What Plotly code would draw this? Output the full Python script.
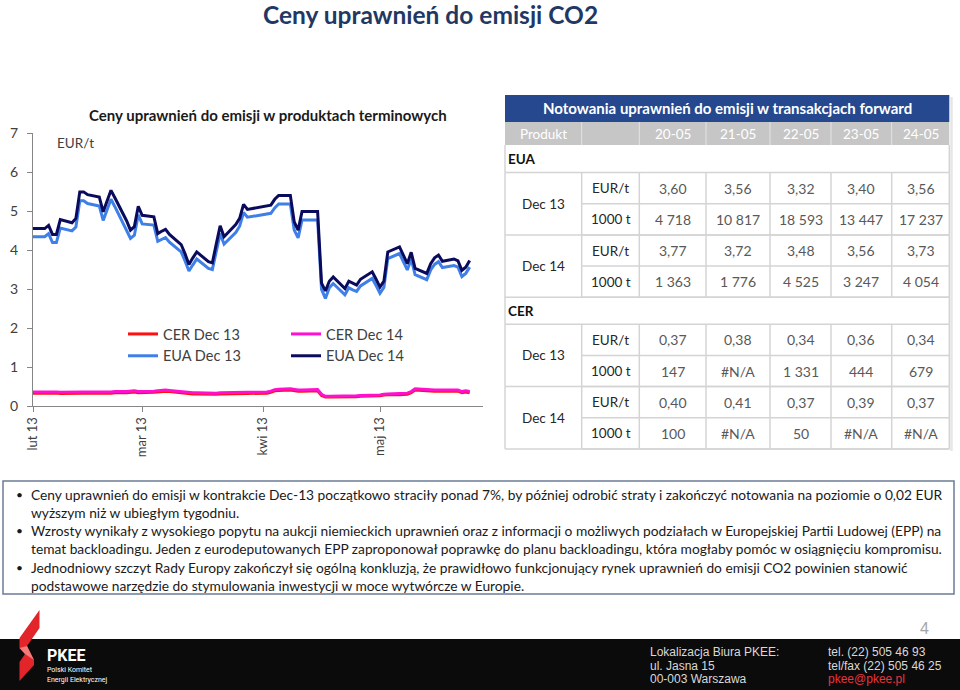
import pandas as pd
import plotly.graph_objects as go

W, H = 960, 690


def px(x):
    return x / W


def py(y):
    return 1 - y / H


# --- chart data, business days 1 Feb - 24 May 2013 ---
dates = [d for d in pd.bdate_range("2013-02-01", "2013-05-24")
         if d.strftime("%m-%d") not in ("03-29", "04-01")]

eua_dec13 = [4.34, 4.34, 4.42, 4.19, 4.19, 4.56, 4.49, 4.59, 5.26, 5.26,
             5.19, 5.13, 4.76, 5.04, 5.30, 5.11, 4.53, 4.30, 4.38, 4.90,
             4.67, 4.64, 4.22, 4.27, 4.32, 4.20, 3.95, 3.72, 3.46, 3.62,
             3.77, 3.53, 3.50, 3.96, 4.42, 4.15, 4.45, 4.61, 4.96, 4.84,
             4.92, 4.94, 5.08, 5.18, 5.18, 4.51, 4.31, 4.77, 4.77, 4.77,
             2.99, 2.76, 3.03, 3.14, 2.85, 3.03, 2.98, 2.94, 3.08, 3.27,
             3.09, 2.89, 3.04, 3.78, 3.91, 3.69, 3.49, 3.77, 3.37, 3.24,
             3.49, 3.63, 3.70, 3.55, 3.60, 3.56, 3.32, 3.40, 3.56]
eua_dec14 = [4.55, 4.55, 4.63, 4.40, 4.40, 4.78, 4.70, 4.81, 5.49, 5.49,
             5.42, 5.36, 4.98, 5.27, 5.53, 5.34, 4.75, 4.51, 4.60, 5.12,
             4.89, 4.85, 4.42, 4.48, 4.53, 4.40, 4.14, 3.90, 3.63, 3.80,
             3.95, 3.70, 3.67, 4.15, 4.62, 4.34, 4.65, 4.81, 5.17, 5.04,
             5.13, 5.15, 5.30, 5.40, 5.40, 4.72, 4.51, 4.99, 4.99, 4.99,
             3.15, 2.95, 3.20, 3.31, 3.01, 3.20, 3.15, 3.10, 3.25, 3.44,
             3.25, 3.05, 3.20, 3.95, 4.08, 3.85, 3.65, 3.94, 3.53, 3.40,
             3.65, 3.80, 3.87, 3.71, 3.77, 3.72, 3.48, 3.56, 3.73]
cer_dec13 = [0.33, 0.33, 0.34, 0.34, 0.33, 0.32, 0.33, 0.34, 0.34, 0.33,
             0.33, 0.32, 0.32, 0.33, 0.33, 0.34, 0.34, 0.35, 0.36, 0.34,
             0.34, 0.35, 0.36, 0.37, 0.38, 0.37, 0.34, 0.32, 0.31, 0.31,
             0.31, 0.30, 0.30, 0.30, 0.31, 0.31, 0.31, 0.32, 0.32, 0.32,
             0.33, 0.35, 0.39, 0.40, 0.41, 0.39, 0.38, 0.38, 0.38, 0.39,
             0.27, 0.23, 0.23, 0.23, 0.23, 0.23, 0.24, 0.24, 0.25, 0.25,
             0.25, 0.26, 0.28, 0.29, 0.29, 0.29, 0.30, 0.34, 0.41, 0.39,
             0.38, 0.38, 0.38, 0.38, 0.37, 0.38, 0.34, 0.36, 0.34]
cer_dec14 = [0.36, 0.36, 0.37, 0.37, 0.36, 0.35, 0.36, 0.37, 0.37, 0.36,
             0.36, 0.35, 0.35, 0.36, 0.36, 0.37, 0.37, 0.38, 0.39, 0.37,
             0.37, 0.38, 0.39, 0.40, 0.41, 0.40, 0.37, 0.35, 0.34, 0.34,
             0.34, 0.33, 0.33, 0.33, 0.34, 0.34, 0.34, 0.35, 0.35, 0.35,
             0.36, 0.38, 0.42, 0.43, 0.44, 0.42, 0.41, 0.41, 0.41, 0.42,
             0.30, 0.25, 0.25, 0.25, 0.25, 0.25, 0.26, 0.26, 0.27, 0.27,
             0.27, 0.28, 0.30, 0.31, 0.32, 0.32, 0.33, 0.37, 0.44, 0.42,
             0.41, 0.41, 0.41, 0.41, 0.40, 0.41, 0.37, 0.39, 0.37]

month_ticks = ["2013-02-01", "2013-03-01", "2013-04-01", "2013-05-01"]
month_labels = ["lut 13", "mar 13", "kwi 13", "maj 13"]

# --- forward table ---
table_title = "Notowania uprawnień do emisji w transakcjach forward"
table_dates = ["20-05", "21-05", "22-05", "23-05", "24-05"]
eua_dec13_price = ["3,60", "3,56", "3,32", "3,40", "3,56"]
eua_dec13_vol = ["4 718", "10 817", "18 593", "13 447", "17 237"]
eua_dec14_price = ["3,77", "3,72", "3,48", "3,56", "3,73"]
eua_dec14_vol = ["1 363", "1 776", "4 525", "3 247", "4 054"]
cer_dec13_price = ["0,37", "0,38", "0,34", "0,36", "0,34"]
cer_dec13_vol = ["147", "#N/A", "1 331", "444", "679"]
cer_dec14_price = ["0,40", "0,41", "0,37", "0,39", "0,37"]
cer_dec14_vol = ["100", "#N/A", "50", "#N/A", "#N/A"]

bullets = [
    ["Ceny uprawnień do emisji w kontrakcie Dec-13 początkowo straciły ponad 7%, by później odrobić straty i zakończyć notowania na poziomie o 0,02 EUR",
     "wyższym niż w ubiegłym tygodniu."],
    ["Wzrosty wynikały z wysokiego popytu na aukcji niemieckich uprawnień oraz z informacji o możliwych podziałach w Europejskiej Partii Ludowej (EPP) na",
     "temat backloadingu. Jeden z eurodeputowanych EPP zaproponował poprawkę do planu backloadingu, która mogłaby pomóc w osiągnięciu kompromisu."],
    ["Jednodniowy szczyt Rady Europy zakończył się ogólną konkluzją, że prawidłowo funkcjonujący rynek uprawnień do emisji CO2 powinien stanowić",
     "podstawowe narzędzie do stymulowania inwestycji w moce wytwórcze w Europie."],
]

FONT = "Lato"
ann = []
shapes = []


def text(x, y, s, size=13, color="#262626", anchor="center", bold=False, family=FONT):
    if bold:
        s = "<b>" + s + "</b>"
    ann.append(dict(x=px(x), y=py(y), xref="paper", yref="paper", text=s, showarrow=False,
                    xanchor=anchor, yanchor="middle",
                    font=dict(family=family, size=size, color=color)))


def rect(x0, y0, x1, y1, fill=None, line=None, lw=1):
    shapes.append(dict(type="rect", xref="paper", yref="paper",
                       x0=px(x0), x1=px(x1), y0=py(y1), y1=py(y0),
                       fillcolor=fill or "rgba(0,0,0,0)",
                       line=dict(color=line or "rgba(0,0,0,0)", width=lw if line else 0),
                       layer="below"))


def hline(x0, x1, y, color="#D4D4D4", lw=1.5):
    shapes.append(dict(type="line", xref="paper", yref="paper", x0=px(x0), x1=px(x1),
                       y0=py(y), y1=py(y), line=dict(color=color, width=lw)))


def vline(x, y0, y1, color="#D4D4D4", lw=1.5):
    shapes.append(dict(type="line", xref="paper", yref="paper", x0=px(x), x1=px(x),
                       y0=py(y0), y1=py(y1), line=dict(color=color, width=lw)))


fig = go.Figure()
series = [("CER Dec 13", cer_dec13, "#FF1010", "legend"),
          ("CER Dec 14", cer_dec14, "#FF10D0", "legend2"),
          ("EUA Dec 13", eua_dec13, "#3F7FE8", "legend"),
          ("EUA Dec 14", eua_dec14, "#0B0B5E", "legend2")]
for name, vals, color, leg in series:
    fig.add_trace(go.Scatter(x=dates, y=vals, mode="lines", name=name,
                             line=dict(color=color, width=3), legend=leg))

# slide title and chart labels
text(430, 15, "Ceny uprawnień do emisji CO2", size=24.5, color="#1F3864", bold=True)
text(268, 115, "Ceny uprawnień do emisji w produktach terminowych", size=15, color="#1a1a1a", bold=True)
text(55, 143, "EUR/t", size=13.5, color="#404040", anchor="left")

# table
cols = [505, 581.7, 639.3, 706, 770, 831, 891.7, 949.3]
col_c = [(cols[i] + cols[i + 1]) / 2 for i in range(len(cols) - 1)]
rect(505, 95, 949.3, 122, fill="#25488E")
text(727, 108.5, table_title, size=15, color="white", bold=True)
rect(505, 122, 949.3, 145, fill="#C6C6C6")
for c in cols[1:-1]:
    vline(c, 122, 145, color="#E4E4E4", lw=1)
text(col_c[0], 133.5, "Produkt", size=13.5, color="white")
for i, d in enumerate(table_dates):
    text(col_c[2 + i], 133.5, d, size=13.5, color="white")

groups = [("EUA", 145, [("Dec 13", eua_dec13_price, eua_dec13_vol),
                        ("Dec 14", eua_dec14_price, eua_dec14_vol)]),
          ("CER", 296.7, [("Dec 13", cer_dec13_price, cer_dec13_vol),
                          ("Dec 14", cer_dec14_price, cer_dec14_vol)])]
row_h = 31.2
for label, top, blocks in groups:
    text(506, top + 14, label, size=13.5, color="#111111", anchor="left", bold=True)
    y = top + 27.5
    hline(505, 949.3, y)
    for prod, price, vol in blocks:
        y0 = y
        for unit, vals in (("EUR/t", price), ("1000 t", vol)):
            text(col_c[1], y + row_h / 2, unit, size=13.5)
            for i, v in enumerate(vals):
                text(col_c[2 + i], y + row_h / 2, v, size=14, color="#595959")
            y += row_h
            hline(cols[1], 949.3, y)
        hline(505, 949.3, y)
        text(col_c[0], (y0 + y) / 2, prod, size=13.5)
        for c in cols[1:-1]:
            vline(c, y0, y)
        vline(505, y0, y)
        vline(949.3, y0, y)
    vline(505, top, top + 27.5)
    vline(949.3, top, top + 27.5)
# faint shadow on the right edge of the table
vline(951.5, 97, 451, color="#E6E6E6", lw=2.5)

# comment box
rect(3, 481, 954, 594, line="#6B7B95", lw=1.5)
line_y = 494
for para in bullets:
    text(14, line_y, "•", size=12, color="#1a1a1a", anchor="left")
    for ln in para:
        text(29, line_y, ln, size=13.75, color="#1a1a1a", anchor="left")
        line_y += 18.3

# footer
rect(0, 639, 960, 690, fill="#0B0B0B")
text(924, 628, "4", size=16, color="#A6A6A6", family="Liberation Sans")
shapes.append(dict(type="path", xref="paper", yref="paper", fillcolor="#E2242B", line=dict(width=0),
                   path="M {} {} L {} {} L {} {} L {} {} L {} {} L {} {} L {} {} L {} {} L {} {} L {} {} Z".format(
                       px(39.5), py(610), px(39.5), py(628), px(27), py(646), px(34), py(660),
                       px(34), py(665), px(19.5), py(681), px(19.5), py(662), px(25), py(654),
                       px(19.5), py(648), px(19.5), py(638))))
shapes.append(dict(type="path", xref="paper", yref="paper", fillcolor="#F47A7A", line=dict(width=0),
                   path="M {} {} L {} {} L {} {} L {} {} Z".format(
                       px(19.5), py(648), px(27), py(646), px(34), py(660), px(25), py(654))))
text(45, 655, "PKEE", size=16, color="white", anchor="left", bold=True, family="Roboto")
text(45, 670, "Polski Komitet", size=7, color="white", anchor="left", family="Roboto")
text(45, 680, "Energii Elektrycznej", size=7, color="white", anchor="left", family="Roboto")
foot_l = ["Lokalizacja Biura PKEE:", "ul. Jasna 15", "00-003 Warszawa"]
foot_r = ["tel. (22) 505 46 93", "tel/fax (22) 505 46 25", "pkee@pkee.pl"]
for i, s in enumerate(foot_l):
    text(648, 652 + i * 13.5, s, size=12, color="#D9D9D9", anchor="left", family="Liberation Sans")
for i, s in enumerate(foot_r):
    text(826, 652 + i * 13.5, s, size=12, color="#E8343F" if i == 2 else "#D9D9D9",
         anchor="left", family="Liberation Sans")

leg_style = dict(yanchor="top", xanchor="left", bgcolor="rgba(0,0,0,0)",
                 font=dict(family=FONT, size=14.5, color="#404040"), itemwidth=30,
                 tracegroupgap=0)
fig.update_layout(
    width=W, height=H, margin=dict(l=0, r=0, t=0, b=0, autoexpand=False),
    paper_bgcolor="white", plot_bgcolor="white",
    legend=dict(x=px(123), y=py(318), **leg_style),
    legend2=dict(x=px(286), y=py(318), **leg_style),
    xaxis=dict(domain=[px(33), px(483)], type="date", automargin=False,
               range=["2013-02-01", "2013-05-27 10:00"],
               tickvals=month_ticks, ticktext=month_labels, tickangle=-90,
               showline=True, linecolor="#868686", linewidth=1, ticks="outside",
               ticklen=5, tickcolor="#868686", showgrid=False, zeroline=False,
               tickfont=dict(family=FONT, size=13, color="#404040")),
    yaxis=dict(domain=[py(406), py(133)], range=[0, 7], dtick=1, automargin=False,
               showline=True, linecolor="#868686", linewidth=1, ticks="outside",
               ticklen=5, tickcolor="#868686", showgrid=False, zeroline=False,
               ticklabelstandoff=6,
               tickfont=dict(family=FONT, size=14, color="#404040")),
    annotations=ann, shapes=shapes,
)

# the slide fills the whole page, so drop the browser's default body margin
fig.write_html("out.html", config={"displayModeBar": False},
               post_script="document.body.style.margin='0';")
